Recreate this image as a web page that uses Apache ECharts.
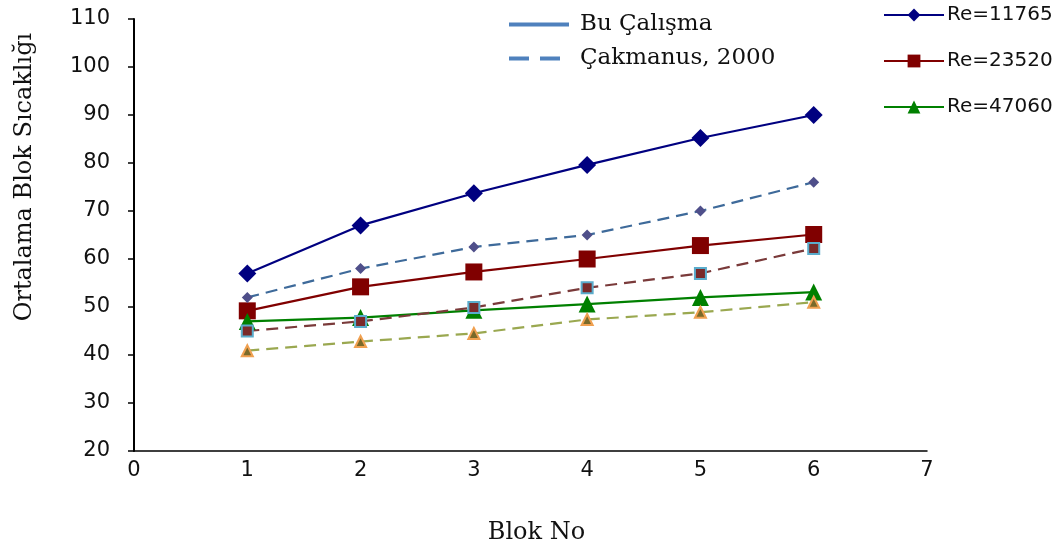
<!DOCTYPE html>
<html>
<head>
<meta charset="utf-8">
<script src="https://cdn.jsdelivr.net/npm/echarts@6/dist/echarts.min.js"></script>
<style>
  html, body { margin: 0; padding: 0; background: #fff; }
  #main { width: 1062px; height: 552px; }
</style>
</head>
<body>
<div id="main"></div>
<script>
var blocks = [1, 2, 3, 4, 5, 6];
var xTicks = [0, 1, 2, 3, 4, 5, 6, 7];
var yTicks = [20, 30, 40, 50, 60, 70, 80, 90, 100, 110];

// Bu Çalışma (solid)
var re11765 = [57, 67, 73.7, 79.6, 85.2, 90];
var re23520 = [49.2, 54.2, 57.3, 60, 62.8, 65.1];
var re47060 = [47, 47.8, 49.3, 50.6, 52, 53.1];

// Çakmanus, 2000 (dashed)
var cak11765 = [52, 58, 62.5, 65, 70, 76];
var cak23520 = [45, 47, 49.9, 54, 57, 62.2];
var cak47060 = [40.9, 42.8, 44.5, 47.4, 48.9, 51];

function pairs(vals) {
  return vals.map(function (v, i) { return [blocks[i], v]; });
}

var chart = echarts.init(document.getElementById('main'));

var option = {
  animation: false,
  grid: { left: 134, right: 135, top: 19, bottom: 101 },
  legend: [
    {
      left: 502, top: 8,
      orient: 'vertical',
      itemWidth: 60, itemHeight: 14, itemGap: 11,
      itemStyle: { opacity: 0 },
      lineStyle: { width: 4 },
      textStyle: { fontFamily: 'DejaVu Serif', fontSize: 23, color: '#111', padding: [0, 0, 0, 6] },
      data: ['Bu Çalışma', 'Çakmanus, 2000']
    },
    {
      left: 878, top: 0,
      orient: 'vertical',
      itemWidth: 60, itemHeight: 16, itemGap: 26,
      textStyle: { fontFamily: 'DejaVu Sans', fontSize: 20, color: '#111', padding: [0, 0, 0, -2] },
      data: ['Re=11765', 'Re=23520', 'Re=47060']
    }
  ],
  xAxis: {
    type: 'value', min: 0, max: 7, interval: 1,
    name: 'Blok No', nameLocation: 'middle', nameGap: 70,
    nameTextStyle: { fontFamily: 'DejaVu Serif', fontSize: 24, color: '#111', padding: [0, 0, 0, 12] },
    axisLine: { lineStyle: { color: '#000', width: 1.5 } },
    axisTick: { show: false },
    splitLine: { show: false },
    axisLabel: {
      fontFamily: 'DejaVu Sans', fontSize: 21, color: '#111', margin: 9,
      formatter: function (v) { return xTicks.indexOf(v) >= 0 ? String(v) : ''; }
    }
  },
  yAxis: {
    type: 'value', min: 20, max: 110, interval: 10,
    name: 'Ortalama Blok Sıcaklığı', nameLocation: 'middle', nameGap: 97, nameRotate: 90,
    nameTextStyle: { fontFamily: 'DejaVu Serif', fontSize: 24, color: '#111', padding: [0, 0, 0, 116] },
    axisLine: { show: true, lineStyle: { color: '#000', width: 2 } },
    axisTick: { show: true, length: 6, lineStyle: { color: '#000', width: 1.5 } },
    splitLine: { show: false },
    axisLabel: {
      fontFamily: 'DejaVu Sans', fontSize: 21, color: '#111', margin: 24,
      formatter: function (v) { return yTicks.indexOf(v) >= 0 ? String(v) : ''; }
    }
  },
  series: [
    // legend-only entries showing the two line styles
    { name: 'Bu Çalışma', type: 'line', data: [], symbol: 'none',
      itemStyle: { color: '#4f81bd' }, lineStyle: { color: '#4f81bd', width: 4 } },
    { name: 'Çakmanus, 2000', type: 'line', data: [], symbol: 'none',
      itemStyle: { color: '#4f81bd' }, lineStyle: { color: '#4f81bd', width: 4, type: [20, 11] } },

    { name: 'Re=11765', type: 'line', data: pairs(re11765),
      symbol: 'diamond', symbolSize: 18,
      itemStyle: { color: '#000080' }, lineStyle: { color: '#000080', width: 2.2 } },
    { name: 'Re=23520', type: 'line', data: pairs(re23520),
      symbol: 'rect', symbolSize: 17,
      itemStyle: { color: '#800000' }, lineStyle: { color: '#800000', width: 2.2 } },
    { name: 'Re=47060', type: 'line', data: pairs(re47060),
      symbol: 'triangle', symbolSize: 17,
      itemStyle: { color: '#008000' }, lineStyle: { color: '#008000', width: 2.2 } },

    { name: 'Çakmanus Re=11765', type: 'line', data: pairs(cak11765),
      symbol: 'diamond', symbolSize: 11,
      itemStyle: { color: '#4f4f8a' }, lineStyle: { color: '#3e6a9a', width: 2.2, type: [12, 7] } },
    { name: 'Çakmanus Re=23520', type: 'line', data: pairs(cak23520),
      symbol: 'rect', symbolSize: 11,
      itemStyle: { color: '#7a2a2a', borderColor: '#5aaccc', borderWidth: 2 },
      lineStyle: { color: '#7a3a3a', width: 2.2, type: [12, 7] } },
    { name: 'Çakmanus Re=47060', type: 'line', data: pairs(cak47060),
      symbol: 'triangle', symbolSize: 11,
      itemStyle: { color: '#7a6a2a', borderColor: '#f0a050', borderWidth: 2 },
      lineStyle: { color: '#9aa850', width: 2.2, type: [12, 7] } }
  ]
};

chart.setOption(option);
</script>
</body>
</html>
